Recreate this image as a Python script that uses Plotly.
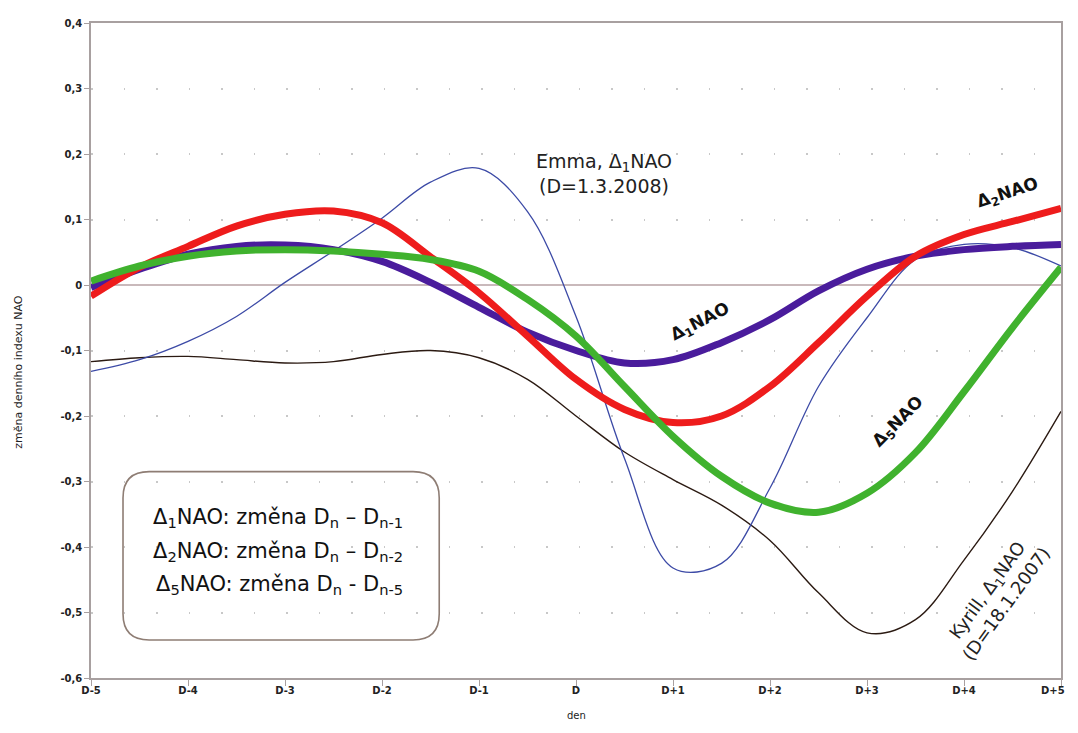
import plotly.graph_objects as go

days = [-5, -4.5, -4, -3.5, -3, -2.5, -2, -1.5, -1, -0.5, 0,
        0.5, 1, 1.5, 2, 2.5, 3, 3.5, 4, 4.5, 5]
tick_days = [-5, -4, -3, -2, -1, 0, 1, 2, 3, 4, 5]
tick_labels = ["D-5", "D-4", "D-3", "D-2", "D-1", "D", "D+1", "D+2", "D+3", "D+4", "D+5"]
y_ticks = [0.4, 0.3, 0.2, 0.1, 0, -0.1, -0.2, -0.3, -0.4, -0.5, -0.6]
y_labels = ["0,4", "0,3", "0,2", "0,1", "0", "-0,1", "-0,2", "-0,3", "-0,4", "-0,5", "-0,6"]

delta1 = [-0.004, 0.024, 0.047, 0.059, 0.061, 0.054, 0.036, 0.004, -0.034, -0.072, -0.100,
          -0.119, -0.114, -0.088, -0.053, -0.009, 0.024, 0.044, 0.054, 0.059, 0.062]
delta2 = [-0.017, 0.027, 0.059, 0.090, 0.108, 0.113, 0.095, 0.043, -0.012, -0.078, -0.144,
          -0.190, -0.210, -0.200, -0.155, -0.088, -0.017, 0.044, 0.077, 0.097, 0.117]
delta5 = [0.006, 0.029, 0.044, 0.052, 0.054, 0.052, 0.047, 0.039, 0.021, -0.022, -0.078,
          -0.155, -0.231, -0.292, -0.333, -0.347, -0.318, -0.256, -0.163, -0.065, 0.027]
emma = [-0.132, -0.114, -0.086, -0.048, 0.004, 0.052, 0.102, 0.157, 0.178, 0.112, -0.048,
        -0.265, -0.432, -0.425, -0.310, -0.155, -0.050, 0.039, 0.062, 0.057, 0.029]
kyrill = [-0.117, -0.111, -0.109, -0.114, -0.119, -0.117, -0.106, -0.100, -0.111, -0.144, -0.200,
          -0.255, -0.297, -0.336, -0.390, -0.470, -0.531, -0.511, -0.420, -0.315, -0.193]

FONT = "DejaVu Sans"
TICKFONT = dict(size=10, color="#222", family=FONT, weight="bold")

fig = go.Figure()
series = [
    ("Kyrill", kyrill, "#2b1a12", 1.4),
    ("Emma", emma, "#3c4aa6", 1.3),
    ("Δ1NAO", delta1, "#4a1c9c", 7),
    ("Δ2NAO", delta2, "#ee1c1c", 7),
    ("Δ5NAO", delta5, "#40b22e", 7),
]
for name, vals, col, w in series:
    fig.add_trace(go.Scatter(x=days, y=vals, mode="lines", name=name,
                             line=dict(color=col, width=w, shape="spline", smoothing=1.0),
                             hoverinfo="skip"))

annots = [
    dict(x=0.29, y=0.17, text="Emma, Δ<sub>1</sub>NAO<br>(D=1.3.2008)", font=dict(size=19, color="#222"),
         showarrow=False, xref="x", yref="y"),
    dict(x=1.28, y=-0.058, text="<b>Δ<sub>1</sub>NAO</b>", textangle=-27, font=dict(size=17, color="#111"),
         showarrow=False, xref="x", yref="y"),
    dict(x=4.45, y=0.14, text="<b>Δ<sub>2</sub>NAO</b>", textangle=-18, font=dict(size=17, color="#111"),
         showarrow=False, xref="x", yref="y"),
    dict(x=3.32, y=-0.21, text="<b>Δ<sub>5</sub>NAO</b>", textangle=-45, font=dict(size=17, color="#111"),
         showarrow=False, xref="x", yref="y"),
    dict(x=4.33, y=-0.476, text="Kyrill, Δ<sub>1</sub>NAO<br>(D=18.1.2007)", textangle=-54,
         font=dict(size=18, color="#222"), showarrow=False, xref="x", yref="y"),
    dict(x=-4.38, y=-0.355, text="Δ<sub>1</sub>NAO: změna D<sub>n</sub> – D<sub>n-1</sub>", xanchor="left",
         font=dict(size=21, color="#111"), showarrow=False, xref="x", yref="y"),
    dict(x=-4.38, y=-0.408, text="Δ<sub>2</sub>NAO: změna D<sub>n</sub> – D<sub>n-2</sub>", xanchor="left",
         font=dict(size=21, color="#111"), showarrow=False, xref="x", yref="y"),
    dict(x=-4.35, y=-0.458, text="Δ<sub>5</sub>NAO: změna D<sub>n</sub> - D<sub>n-5</sub>", xanchor="left",
         font=dict(size=21, color="#111"), showarrow=False, xref="x", yref="y"),
    dict(x=-0.083, y=0.4675, xref="paper", yref="paper", text="změna denního indexu NAO",
         textangle=-90, font=dict(size=11, color="#222"), showarrow=False),
    dict(x=0.5, y=-0.057, xref="paper", yref="paper", text="den", yanchor="middle",
         font=dict(size=10, color="#222"), showarrow=False),
    # last tick label placed so it stays inside the page
    dict(x=tick_days[-1], y=0, xref="x", yref="paper", text=tick_labels[-1],
         xanchor="right", yanchor="top", xshift=6, yshift=-5, font=TICKFONT, showarrow=False),
]

shown_ticks = tick_labels[:-1] + [""]

# rounded box for the key
x0, x1, y0, y1 = -4.67, -1.41, -0.542, -0.285
rx, ry = 0.27, 0.04
path = (f"M {x0+rx},{y1} L {x1-rx},{y1} Q {x1},{y1} {x1},{y1-ry} "
        f"L {x1},{y0+ry} Q {x1},{y0} {x1-rx},{y0} L {x0+rx},{y0} "
        f"Q {x0},{y0} {x0},{y0+ry} L {x0},{y1-ry} Q {x0},{y1} {x0+rx},{y1} Z")

fig.update_layout(
    width=1062, height=717,
    margin=dict(l=83, r=7, t=15, b=47),
    paper_bgcolor="white", plot_bgcolor="white",
    showlegend=False,
    font=dict(family=FONT),
    annotations=annots,
    shapes=[dict(type="path", path=path, xref="x", yref="y",
                 line=dict(color="#8e7d74", width=1.6), fillcolor="rgba(0,0,0,0)", layer="above")],
)
fig.update_xaxes(range=[-5, 5], tickvals=tick_days, ticktext=shown_ticks,
                 showgrid=False, zeroline=False,
                 showline=True, linecolor="#a8a0a0", linewidth=1.5, mirror=True,
                 ticks="outside", ticklen=6, tickcolor="#a8a0a0", ticklabelstandoff=-4,
                 tickfont=TICKFONT)
fig.update_yaxes(range=[-0.6, 0.4], tickvals=y_ticks, ticktext=y_labels,
                 showgrid=True, gridcolor="#c8c8c8", gridwidth=1.5, griddash="1.5px,31px",
                 zeroline=True, zerolinecolor="#c9b9bb", zerolinewidth=2,
                 showline=True, linecolor="#a8a0a0", linewidth=1.5, mirror=True,
                 ticks="outside", ticklen=5, tickcolor="#a8a0a0",
                 tickfont=TICKFONT)

fig.write_html("out.html")
